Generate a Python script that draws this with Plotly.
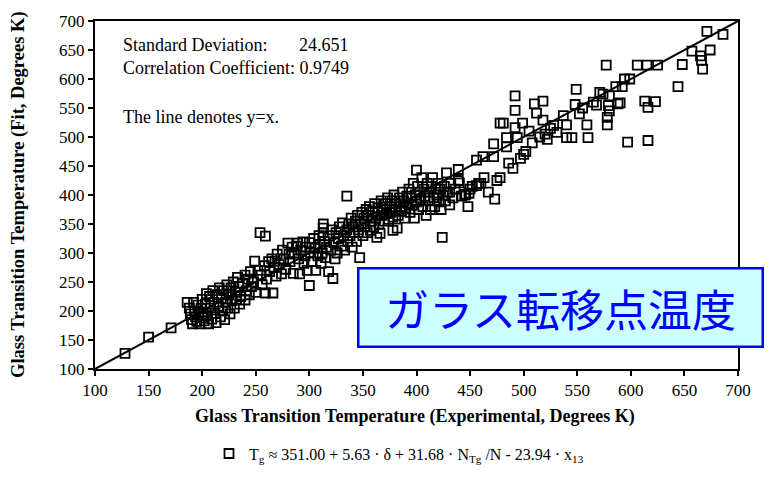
import plotly.graph_objects as go

# ---- data (Experimental Tg, Fitted Tg) ----
tg_exp = [
    128, 150, 171,
    186, 188, 189, 190, 191, 192, 193, 194, 195, 196, 197, 198, 199, 200, 200, 201, 202, 203, 204, 205, 206, 207, 208, 209,
    210, 211, 212, 213, 214, 215, 216, 217, 218, 219, 220, 221, 222, 223, 224, 225, 226, 227, 228, 229, 230, 231, 232, 233,
    234, 235, 236, 238, 240, 240, 241, 243, 244, 245, 246, 248, 249, 250, 252, 254, 255, 256, 258, 259, 259, 260, 262, 263,
    265, 266, 267, 268, 269, 270, 272, 274, 275, 276, 278, 280, 281, 282, 284, 285, 286, 288, 289, 290, 291, 292, 294, 295,
    296, 297, 298, 300, 300, 301, 302, 304, 305, 306, 308, 309, 310, 311, 312, 313, 313, 313, 314, 315, 316, 318, 319, 320,
    321, 322, 323, 324, 325, 326, 327, 328, 330, 331, 332, 333, 335, 335, 336, 337, 338, 339, 340, 341, 342, 343, 344, 345,
    346, 347, 348, 349, 350, 351, 352, 353, 354, 355, 356, 357, 358, 359, 360, 361, 362, 363, 364, 365, 366, 367, 368, 369,
    370, 371, 372, 373, 374, 375, 376, 377, 378, 378, 379, 380, 381, 382, 383, 384, 385, 386, 387, 388, 389, 390, 391, 392,
    393, 394, 395, 396, 397, 398, 399, 400, 400, 401, 402, 403, 404, 405, 406, 407, 408, 409, 410, 411, 412, 413, 414, 415,
    416, 417, 418, 419, 420, 421, 422, 423, 424, 425, 426, 427, 428, 429, 431, 431, 432, 434, 436, 439, 439, 440, 442, 445,
    446, 448, 449, 450, 452, 456, 456, 458, 460, 462, 463, 467, 472, 472, 473, 475, 478, 478, 481, 484, 484, 486, 490, 492,
    492, 492, 494, 497, 499, 500, 502, 505, 508, 510, 512, 515, 518, 518, 520, 522, 525, 528, 531, 537, 540, 540, 545, 548,
    549, 552, 555, 559, 560, 565, 568, 571, 574, 577, 578, 578, 579, 580, 580, 586, 588, 590, 592, 594, 597, 599, 606, 613,
    615, 616, 616, 623, 625, 644, 648, 657, 665, 666, 667, 671, 674, 686,
]
tg_fit = [
    127, 155, 171,
    215, 205, 195, 185, 178, 215, 200, 190, 182, 210, 195, 178, 205, 188, 220, 198, 183, 212, 230, 192, 178, 225, 205, 186,
    235, 215, 196, 180, 228, 208, 240, 190, 222, 200, 235, 185, 215, 245, 205, 228, 195, 240, 218, 250, 205, 232, 220, 258,
    242, 212, 225, 248, 262, 219, 235, 255, 228, 268, 242, 250, 286, 232, 270, 335, 262, 245, 278, 329, 231, 255, 285, 268,
    290, 231, 275, 286, 260, 298, 280, 264, 305, 290, 272, 317, 298, 285, 310, 265, 300, 312, 317, 290, 264, 305, 319, 282,
    295, 310, 270, 244, 318, 300, 285, 325, 308, 270, 295, 330, 315, 282, 300, 350, 343, 335, 320, 292, 310, 268, 330, 305,
    340, 256, 318, 290, 335, 300, 325, 345, 312, 352, 330, 305, 398, 340, 320, 350, 330, 360, 310, 345, 335, 355, 320, 365,
    340, 292, 350, 370, 330, 360, 345, 375, 335, 365, 380, 339, 355, 372, 345, 385, 360, 327, 378, 350, 334, 390, 365, 375,
    355, 385, 368, 395, 358, 380, 370, 390, 339, 362, 400, 375, 385, 343, 365, 395, 380, 372, 405, 390, 360, 378, 398, 385,
    410, 370, 395, 382, 420, 360, 400, 443, 388, 415, 375, 405, 392, 430, 380, 410, 398, 365, 420, 390, 405, 375, 415, 430,
    395, 380, 410, 400, 420, 388, 410, 375, 327, 400, 415, 390, 438, 405, 383, 405, 420, 395, 410, 425, 444, 421, 398, 400,
    401, 380, 403, 410, 415, 416, 460, 420, 420, 466, 430, 405, 466, 488, 393, 425, 430, 524, 524, 499, 483, 455, 446, 571,
    546, 516, 499, 463, 524, 470, 475, 510, 490, 557, 541, 500, 562, 529, 505, 496, 515, 520, 508, 537, 521, 499, 499, 556,
    582, 540, 550, 521, 499, 560, 555, 577, 574, 624, 534, 521, 554, 571, 545, 587, 557, 559, 587, 600, 491, 600, 624, 562,
    624, 494, 551, 561, 624, 587, 625, 648, 640, 632, 617, 682, 650, 677,
]
line_x = [100, 700]
line_y = [100, 700]
tick_vals = [100, 150, 200, 250, 300, 350, 400, 450, 500, 550, 600, 650, 700]
std_dev = "24.651"
corr_coef = "0.9749"

W, H = 768, 482
L, R, T, B = 95, 738, 12, 374


def px(x):
    return (x - L) / (R - L)


def py(y):
    return (B - y) / (B - T)


SERIF = "Liberation Serif, Times New Roman, serif"
NB = "\u00a0"

fig = go.Figure()
fig.add_trace(go.Scatter(
    x=tg_exp, y=tg_fit, mode="markers",
    name="T<sub>g</sub> ≈ 351.00 + 5.63 · δ + 31.68 · N<sub>Tg</sub> /N - 23.94 · x<sub>13</sub>",
    marker=dict(symbol="square-open", size=9, color="black", line=dict(width=1.8, color="black")),
    showlegend=True,
))
fig.add_trace(go.Scatter(
    x=line_x, y=line_y, mode="lines", line=dict(color="black", width=2), showlegend=False,
))

common = dict(range=[100, 700], tickvals=tick_vals, showgrid=False, zeroline=False, ticklen=5,
              tickwidth=1.5, tickcolor="black")

fig.update_layout(
    width=W, height=H,
    margin=dict(l=L, r=W - R, t=T, b=H - B),
    paper_bgcolor="white", plot_bgcolor="white",
    font=dict(family=SERIF, color="black", size=17),
    xaxis=dict(**common, ticks="outside", showline=True, linecolor="black", linewidth=2, mirror=True,
               tickfont=dict(family=SERIF, size=17, color="black")),
    yaxis=dict(**common, ticks="outside", showline=True, linecolor="black", linewidth=2, mirror=True,
               ticklabelstandoff=0,
               tickfont=dict(family=SERIF, size=17, color="black")),
    xaxis2=dict(**common, overlaying="x", side="bottom", ticks="inside", showticklabels=False, showline=False),
    xaxis3=dict(**common, overlaying="x", side="top", ticks="inside", showticklabels=False, showline=False),
    yaxis2=dict(**common, overlaying="y", side="left", ticks="inside", showticklabels=False, showline=False),
    yaxis3=dict(**common, overlaying="y", side="right", ticks="inside", showticklabels=False, showline=False),
    yaxis4=dict(**common, overlaying="y", side="right", ticks="outside", showticklabels=False, showline=False),
    legend=dict(x=px(209), y=py(462), xanchor="left", yanchor="middle", orientation="h",
                font=dict(family=SERIF, size=16, color="black"), bgcolor="rgba(0,0,0,0)"),
)

stats_text = ("Standard Deviation:" + NB * 7 + std_dev + "<br>"
              + "Correlation Coefficient: " + corr_coef)
fig.add_annotation(xref="paper", yref="paper", x=px(121), y=py(49), xanchor="left", yanchor="middle",
                   align="left", showarrow=False, text=stats_text,
                   font=dict(family=SERIF, size=18, color="black"))
fig.add_annotation(xref="paper", yref="paper", x=px(121), y=py(112), xanchor="left", yanchor="middle",
                   showarrow=False, text="The line denotes y=x.",
                   font=dict(family=SERIF, size=18, color="black"))

fig.add_annotation(xref="paper", yref="paper", x=px(415), y=py(423), xanchor="center", yanchor="middle",
                   showarrow=False, text="<b>Glass Transition Temperature (Experimental, Degrees K)</b>",
                   font=dict(family=SERIF, size=18, color="black"))
fig.add_annotation(xref="paper", yref="paper", x=px(18), y=py(193), xanchor="center", yanchor="middle",
                   showarrow=False, textangle=-90,
                   text="<b>Glass Transition Temperature (Fit, Degrees K)</b>",
                   font=dict(family=SERIF, size=18.5, color="black"))

fig.add_annotation(xref="paper", yref="paper", x=px(560), y=py(310), xanchor="center", yanchor="middle",
                   showarrow=False, text="ガラス転移点温度",
                   font=dict(family="Noto Sans CJK JP", size=44, color="#0000ff"),
                   bgcolor="#ccffff", bordercolor="#0000ff", borderwidth=2.5, borderpad=0,
                   width=402, height=76)

fig.write_html("out.html")
